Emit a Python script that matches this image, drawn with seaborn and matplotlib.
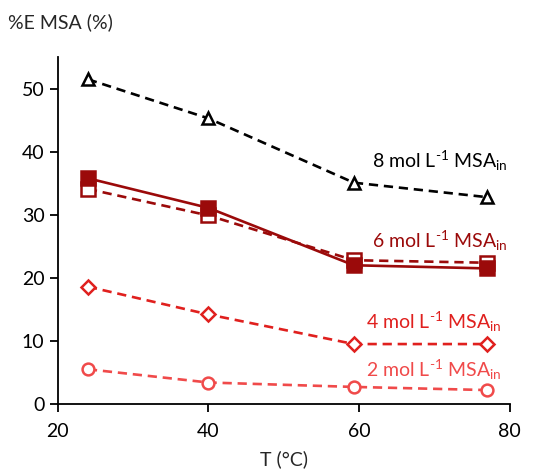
import matplotlib
matplotlib.use("Agg")
import matplotlib.pyplot as plt
import seaborn as sns
import pandas as pd

temps = [24, 40, 59.3, 77]
msa8 = [51.5, 45.3, 35.1, 32.8]
msa6_filled = [35.8, 31.1, 22.0, 21.5]
msa6_open = [34.1, 29.9, 22.8, 22.4]
msa4 = [18.6, 14.2, 9.5, 9.5]
msa2 = [5.5, 3.4, 2.7, 2.2]
xticks = [20, 40, 60, 80]
yticks = [0, 10, 20, 30, 40, 50]
labels = ["8 mol L$^{\\text{-1}}$ MSA$_{\\mathrm{in}}$", "6 mol L$^{\\text{-1}}$ MSA$_{\\mathrm{in}}$",
          "4 mol L$^{\\text{-1}}$ MSA$_{\\mathrm{in}}$", "2 mol L$^{\\text{-1}}$ MSA$_{\\mathrm{in}}$"]

sns.set_style("ticks")
plt.rcParams['font.family'] = ['Lato', 'DejaVu Sans']
plt.rcParams['mathtext.fontset'] = 'custom'
plt.rcParams['mathtext.rm'] = 'Lato'
plt.rcParams['mathtext.it'] = 'Lato:italic'

BLACK = "#000000"
DARK = "#9B0A0A"
RED = "#E0201E"
LIGHT = "#F04A4A"

fig = plt.figure(figsize=(5.4, 4.73), dpi=100)
ax = fig.add_axes([0.107, 0.146, 0.837, 0.733])

dash = (3.5, 2.2)
series = [
    (msa8, BLACK, "^", "white", True),
    (msa6_open, DARK, "s", "white", True),
    (msa6_filled, DARK, "s", DARK, False),
    (msa4, RED, "D", "white", True),
    (msa2, LIGHT, "o", "white", True),
]
sizes = {"^": 9, "s": 9.5, "D": 7, "o": 8.5}
for vals, col, mk, mfc, dashed in series:
    df = pd.DataFrame({"T": temps, "E": vals})
    sns.lineplot(data=df, x="T", y="E", ax=ax, color=col, lw=1.9,
                 marker=mk, markersize=sizes[mk], markerfacecolor=mfc,
                 markeredgecolor=col, markeredgewidth=1.8)
    l = ax.lines[-1]
    if dashed:
        l.set_dashes(dash)

ax.set_xlim(20, 80)
ax.set_ylim(0, 55)
ax.set_xticks(xticks)
ax.set_yticks(yticks)
for s in ["top", "right"]:
    ax.spines[s].set_visible(False)
for s in ["left", "bottom"]:
    ax.spines[s].set_linewidth(1.3)
    ax.spines[s].set_color("black")
ax.tick_params(axis="both", labelsize=14, width=1.3, length=6, colors="black")
ax.tick_params(axis="x", pad=8)
ax.set_xlabel("T (°C)", fontsize=14, labelpad=7)
ax.set_ylabel("")
fig.text(0.015, 0.953, "%E MSA (%)", fontsize=14, ha="left", va="center")

ax.text(79.7, 38.6, labels[0], color=BLACK, fontsize=14, ha="right", va="center")
ax.text(79.7, 25.9, labels[1], color=DARK, fontsize=14, ha="right", va="center")
ax.text(78.9, 13.0, labels[2], color=RED, fontsize=14, ha="right", va="center")
ax.text(79.0, 5.4, labels[3], color=LIGHT, fontsize=14, ha="right", va="center")

fig.savefig("out.png", dpi=100)
